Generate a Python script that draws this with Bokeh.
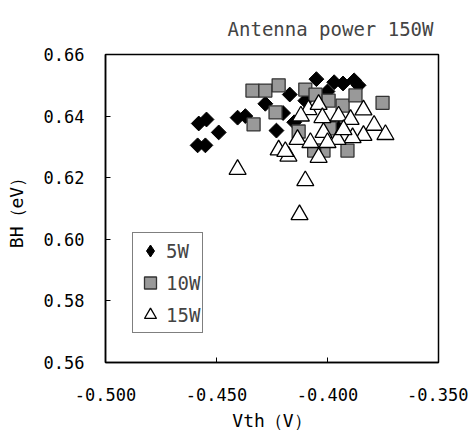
import math
from bokeh.plotting import figure
from bokeh.models import Legend, LegendItem, FixedTicker, NumeralTickFormatter, Title
from bokeh.embed import file_html
from bokeh.resources import INLINE

x_5w = [-0.458, -0.4545, -0.449, -0.4585, -0.455, -0.4405, -0.437, -0.423, -0.405, -0.397,
        -0.393, -0.388, -0.386, -0.417, -0.428, -0.420, -0.410, -0.400, -0.395, -0.415]
y_5w = [0.6376, 0.6389, 0.6347, 0.6305, 0.6305, 0.6395, 0.640, 0.6353, 0.652, 0.651,
        0.6506, 0.6516, 0.650, 0.647, 0.644, 0.641, 0.645, 0.648, 0.636, 0.638]

x_10w = [-0.4338, -0.428, -0.422, -0.410, -0.4054, -0.4234, -0.4333, -0.3995, -0.3932,
         -0.3874, -0.3752, -0.391, -0.4018, -0.406, -0.413, -0.399]
y_10w = [0.6483, 0.6483, 0.650, 0.6486, 0.647, 0.6412, 0.6373, 0.645, 0.6434,
         0.6467, 0.6443, 0.6288, 0.6288, 0.6288, 0.635, 0.636]

x_15w = [-0.4405, -0.410, -0.4126, -0.422, -0.4176, -0.419, -0.4135, -0.4086, -0.404, -0.4023,
         -0.4018, -0.404, -0.412, -0.395, -0.3896, -0.3838, -0.379, -0.3739, -0.3838, -0.3887,
         -0.3955, -0.400, -0.4077, -0.3928]
y_15w = [0.6227, 0.619, 0.608, 0.629, 0.627, 0.6285, 0.6324, 0.6421, 0.6438, 0.6395,
         0.6347, 0.6266, 0.640, 0.640, 0.6389, 0.642, 0.637, 0.634, 0.6337, 0.633,
         0.6324, 0.6314, 0.6314, 0.6356]

x_ticks = [-0.5, -0.45, -0.4, -0.35]
y_ticks = [0.56, 0.58, 0.60, 0.62, 0.64, 0.66]

FONT = "DejaVu Sans Mono"

p = figure(frame_width=333, frame_height=308, width=468, height=440,
           x_range=(-0.5, -0.35), y_range=(0.56, 0.66),
           output_backend="svg", toolbar_location=None,
           min_border_left=105, min_border_right=30, min_border_top=52, min_border_bottom=80)
p.grid.visible = False
p.outline_line_color = "black"
p.outline_line_width = 1.5
p.background_fill_color = "white"

for ax in (p.xaxis[0], p.yaxis[0]):
    ax.major_tick_in = 5
    ax.major_tick_out = 0
    ax.minor_tick_in = 0
    ax.minor_tick_out = 0
    ax.axis_line_color = "black"
    ax.axis_line_width = 1.5
    ax.major_label_text_font = FONT
    ax.major_label_text_font_size = "17px"
    ax.major_label_text_color = "black"
    ax.axis_label_text_font = FONT
    ax.axis_label_text_font_size = "18px"
    ax.axis_label_text_font_style = "normal"
    ax.axis_label_text_color = "black"

p.xaxis.ticker = FixedTicker(ticks=x_ticks)
p.xaxis.formatter = NumeralTickFormatter(format="0.000")
p.xaxis.major_label_standoff = 25
p.xaxis.axis_label = "Vth（V）"
p.xaxis.axis_label_standoff = 6

p.yaxis.ticker = FixedTicker(ticks=y_ticks)
p.yaxis.formatter = NumeralTickFormatter(format="0.00")
p.yaxis.major_label_standoff = 21
p.yaxis.axis_label = "BH（eV）"
p.yaxis.axis_label_standoff = 14

p.add_layout(Title(text="Antenna power 150W", align="right", text_font=FONT,
                   text_font_size="19px", text_font_style="normal",
                   offset=5, standoff=30), "above")

# diamond-shaped key renderer for 5W (lies fully under the rotated squares below)
k5 = p.scatter(x_5w, y_5w, marker="diamond", size=10, fill_color="black", line_color="black")
r5 = p.scatter(x_5w, y_5w, marker="square", size=10.5, angle=math.pi / 4,
               fill_color="black", line_color="black")
r10 = p.scatter(x_10w, y_10w, marker="square", size=13,
                fill_color="#999999", line_color="#333333", line_width=1.3)
r15 = p.scatter(x_15w, y_15w, marker="triangle", size=17,
                fill_color="white", line_color="black", line_width=1.3)

legend = Legend(items=[LegendItem(label="5W", renderers=[k5]),
                       LegendItem(label="10W", renderers=[r10]),
                       LegendItem(label="15W", renderers=[r15])],
                location=(27, 29), border_line_color="black", border_line_width=1.5,
                background_fill_color="white", background_fill_alpha=1,
                label_text_font=FONT, label_text_font_size="19px",
                glyph_height=31, glyph_width=30, label_standoff=1,
                spacing=1, padding=2, margin=0)
p.add_layout(legend, "center")

open("out.html", "w").write(file_html(p, INLINE))
